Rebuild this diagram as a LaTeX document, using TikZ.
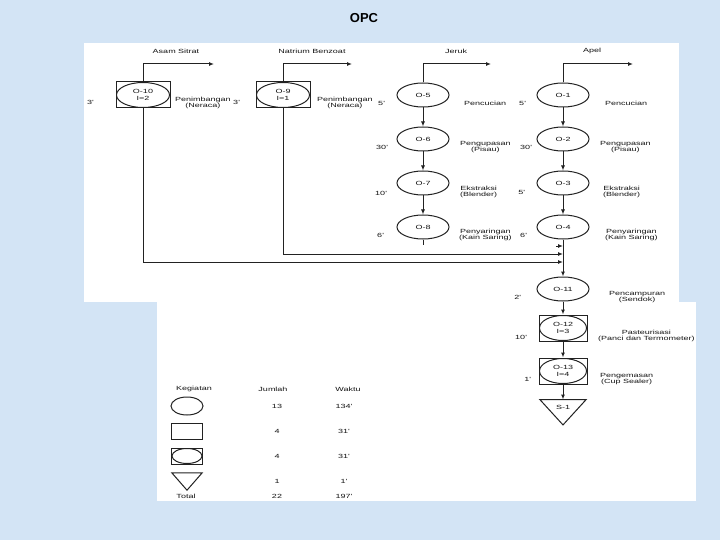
\documentclass[tikz,border=0pt]{standalone}
\usepackage{fontspec}
\setmainfont{Liberation Sans}
\newfontfamily\opcfont{Liberation Sans}[FakeStretch=1.5]
\usepackage{xcolor}
\definecolor{cBack}{HTML}{D3E4F5}
\definecolor{cLine}{HTML}{222222}
\definecolor{cText}{HTML}{141414}
\usepackage{tikz}
\usetikzlibrary{positioning,arrows.meta,shapes.geometric,calc}
\tikzset{
  opc-text/.style={font=\opcfont\fontsize{6}{6.8}\selectfont,text=cText},
  node-op/.style={draw=cLine,line width=1pt,ellipse,inner sep=0pt,
    minimum width=52pt,minimum height=24pt,align=center,opc-text},
  % kotak + elips: operasi sekaligus inspeksi
  node-comb/.style={draw=cLine,line width=1pt,rectangle,inner sep=0pt,
    minimum width=54pt,minimum height=26pt,align=center,opc-text,
    path picture={\draw[cLine,line width=1pt]
      let \p1=(path picture bounding box.south west),
          \p2=(path picture bounding box.north east) in
      (path picture bounding box.center)
      ellipse [x radius={(\x2-\x1)/2-0.5pt},y radius={(\y2-\y1)/2-0.5pt}];}},
  node-store/.style={minimum width=46pt,minimum height=25pt,inner sep=0pt},
  node-desc/.style={anchor=west,align=center,opc-text},
  node-time/.style={anchor=east,opc-text},
  flow/.style={line width=1pt,draw=cLine},
  arrow/.style={-{Latex[length=5pt,width=4pt]},line width=1pt,draw=cLine},
}

\begin{document}
\begin{tikzpicture}[x=1pt,y=-1pt]
  \useasboundingbox (0,0) rectangle (720,540);
  \fill[cBack] (0,0) rectangle (720,540);
  \fill[white] (84,43) rectangle (679,302);
  \fill[white] (157,302) rectangle (696,501);
  \node[font=\bfseries\fontsize{13}{15}\selectfont] (title) at (364,18) {OPC};

  % bahan baku
  \node[opc-text] (h-asam) at (176,51) {Asam Sitrat};
  \node[opc-text] (h-natrium) at (312,51) {Natrium Benzoat};
  \node[opc-text] (h-jeruk) at (456,51) {Jeruk};
  \node[opc-text] (h-apel) at (592,51) {Apel};

  \node[node-comb] (o10) at (143,95) {O-10\\I=2};
  \node[node-comb] (o9) at (283,95) {O-9\\I=1};
  \node[node-op] (o5) at (423,95) {O-5};
  \node[node-op,below=19pt of o5] (o6) {O-6};
  \node[node-op,below=19pt of o6] (o7) {O-7};
  \node[node-op,below=19pt of o7] (o8) {O-8};
  \node[node-op] (o1) at (563,95) {O-1};
  \node[node-op,below=19pt of o1] (o2) {O-2};
  \node[node-op,below=19pt of o2] (o3) {O-3};
  \node[node-op,below=19pt of o3] (o4) {O-4};
  \node[node-op,below=37pt of o4] (o11) {O-11};
  \node[node-comb,minimum width=48pt,below=13pt of o11] (o12) {O-12\\I=3};
  \node[node-comb,minimum width=48pt,below=16pt of o12] (o13) {O-13\\I=4};
  \node[node-store,below=15pt of o13] (s1) {};
  \draw[flow] (s1.north west) -- (s1.north east) -- (s1.south) -- cycle;
  \node[opc-text,below=2pt of s1.north] (s1-txt) {S-1};

  % keterangan kegiatan
  \node[node-desc,right=1pt of o10,yshift=-8pt] (d10) {Penimbangan\\(Neraca)};
  \node[node-desc,right=3pt of o9,yshift=-8pt] (d9) {Penimbangan\\(Neraca)};
  \node[node-desc,right=11pt of o5,yshift=-8pt] (d5) {Pencucian};
  \node[node-desc,right=7pt of o6,yshift=-8pt] (d6) {Pengupasan\\(Pisau)};
  \node[node-desc,right=7pt of o7,yshift=-9pt] (d7) {Ekstraksi\\(Blender)};
  \node[node-desc,right=6pt of o8,yshift=-8pt] (d8) {Penyaringan\\(Kain Saring)};
  \node[node-desc,right=12pt of o1,yshift=-8pt] (d1) {Pencucian};
  \node[node-desc,right=7pt of o2,yshift=-8pt] (d2) {Pengupasan\\(Pisau)};
  \node[node-desc,right=10pt of o3,yshift=-9pt] (d3) {Ekstraksi\\(Blender)};
  \node[node-desc,right=12pt of o4,yshift=-8pt] (d4) {Penyaringan\\(Kain Saring)};
  \node[node-desc,right=16pt of o11,yshift=-8pt] (d11) {Pencampuran\\(Sendok)};
  \node[node-desc,right=7pt of o12,yshift=-8pt] (d12) {Pasteurisasi\\(Panci dan Termometer)};
  \node[node-desc,right=9pt of o13,yshift=-8pt] (d13) {Pengemasan\\(Cup Sealer)};

  % waktu
  \node[node-time,left=18pt of o10,yshift=-7pt] (t10) {3'};
  \node[node-time,left=12pt of o9,yshift=-7pt] (t9) {3'};
  \node[node-time,left=8pt of o5,yshift=-8pt] (t5) {5'};
  \node[node-time,left=5pt of o6,yshift=-8pt] (t6) {30'};
  \node[node-time,left=6pt of o7,yshift=-10pt] (t7) {10'};
  \node[node-time,left=9pt of o8,yshift=-8pt] (t8) {6'};
  \node[node-time,left=7pt of o1,yshift=-8pt] (t1) {5'};
  \node[node-time,left=1pt of o2,yshift=-8pt] (t2) {30'};
  \node[node-time,left=8pt of o3,yshift=-9pt] (t3) {5'};
  \node[node-time,left=6pt of o4,yshift=-8pt] (t4) {6'};
  \node[node-time,left=12pt of o11,yshift=-8pt] (t11) {2'};
  \node[node-time,left=8pt of o12,yshift=-9pt] (t12) {10'};
  \node[node-time,left=4pt of o13,yshift=-8pt] (t13) {1'};

  % aliran
  \coordinate (in10) at (214,64);
  \coordinate (in9) at (352,64);
  \coordinate (in5) at (491,64);
  \coordinate (in1) at (633,64);
  \draw[arrow] (o10.north) |- (in10);
  \draw[arrow] (o9.north) |- (in9);
  \draw[arrow] (o5.north) |- (in5);
  \draw[arrow] (o1.north) |- (in1);
  \draw[arrow] (o5) -- (o6);
  \draw[arrow] (o6) -- (o7);
  \draw[arrow] (o7) -- (o8);
  \coordinate (o8-end) at (423,245);
  \draw[flow] (o8) -- (o8-end);
  \draw[arrow] (o1) -- (o2);
  \draw[arrow] (o2) -- (o3);
  \draw[arrow] (o3) -- (o4);
  \coordinate (m8a) at (556,246);
  \coordinate (m8) at (563,246);
  \draw[arrow] (m8a) -- (m8);
  \coordinate (m9) at (563,254);
  \draw[arrow] (o9.south) |- (m9);
  \coordinate (m10) at (563,262);
  \draw[arrow] (o10.south) |- (m10);
  \draw[arrow] (o4) -- (o11);
  \draw[arrow] (o11) -- (o12);
  \draw[arrow] (o12) -- (o13);
  \draw[arrow] (o13) -- (s1.north);

  % ringkasan
  \node[opc-text] (lg-kegiatan) at (194,389) {Kegiatan};
  \node[opc-text] (lg-jumlah) at (273,389) {Jumlah};
  \node[opc-text] (lg-waktu) at (348,389) {Waktu};
  \node[node-op,minimum width=32pt,minimum height=18pt] (lg-op) at (187,406) {};
  \node[draw=cLine,line width=1pt,minimum width=31pt,minimum height=16pt,
    inner sep=0pt] (lg-insp) at (187,431) {};
  \node[node-comb,minimum width=31pt,minimum height=16pt] (lg-comb) at (187,456) {};
  \node[node-store,minimum width=30pt,minimum height=17pt] (lg-store) at (187,481.5) {};
  \draw[flow] (lg-store.north west) -- (lg-store.north east) -- (lg-store.south) -- cycle;
  \node[opc-text] (lg-total) at (186,496) {Total};
  \foreach \yy/\jml/\wkt [count=\i] in {406/13/134', 431/4/31', 456/4/31', 481/1/1', 496/22/197'} {
    \node[opc-text] (jml-\i) at (277,\yy) {\jml};
    \node[opc-text] (wkt-\i) at (344,\yy) {\wkt};
  }
\end{tikzpicture}
\end{document}
